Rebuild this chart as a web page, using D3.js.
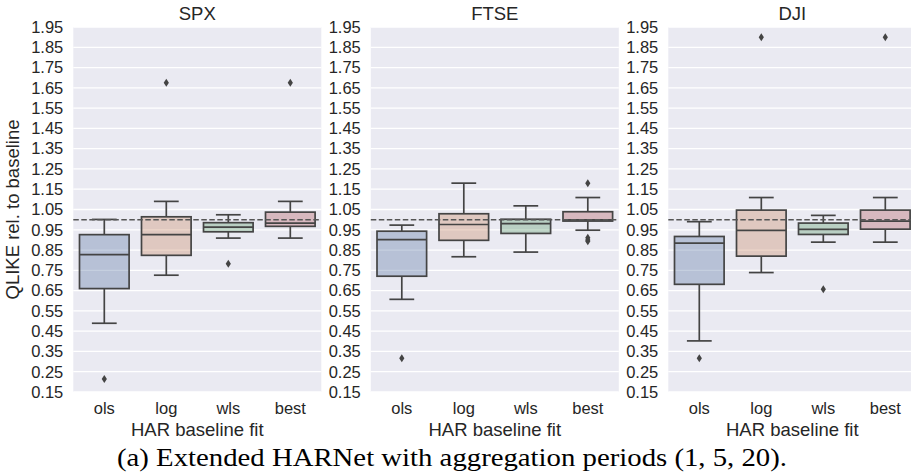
<!DOCTYPE html>
<html>
<head>
<meta charset="utf-8">
<script src="https://cdn.jsdelivr.net/npm/d3@7"></script>
<style>
  html, body { margin: 0; padding: 0; background: #ffffff; }
  svg { display: block; }
</style>
</head>
<body>
<svg id="chart" width="911" height="475"></svg>
<script>
// ---- data ----
const categories = ["ols", "log", "wls", "best"];
const panelTitles = ["SPX", "FTSE", "DJI"];
const yTickValues = [1.95, 1.85, 1.75, 1.65, 1.55, 1.45, 1.35, 1.25, 1.15, 1.05,
                     0.95, 0.85, 0.75, 0.65, 0.55, 0.45, 0.35, 0.25, 0.15];
// box stats per category: [lower whisker, Q1, median, Q3, upper whisker]
const spxStats = [
  [0.489, 0.660, 0.827, 0.926, 1.001],
  [0.726, 0.824, 0.926, 1.014, 1.090],
  [0.909, 0.940, 0.963, 0.985, 1.024],
  [0.909, 0.967, 0.983, 1.037, 1.090]
];
const spxOutliers = [[0.214], [1.675], [0.783], [1.675]];
const ftseStats = [
  [0.607, 0.721, 0.901, 0.943, 0.973],
  [0.817, 0.898, 0.976, 1.029, 1.180],
  [0.840, 0.932, 0.980, 1.002, 1.068],
  [0.948, 0.993, 0.999, 1.039, 1.109]
];
const ftseOutliers = [[0.317], [], [], [1.180, 0.911, 0.900, 0.893]];
const djiStats = [
  [0.402, 0.681, 0.884, 0.917, 0.990],
  [0.739, 0.820, 0.947, 1.047, 1.109],
  [0.889, 0.927, 0.952, 0.983, 1.021],
  [0.889, 0.953, 0.993, 1.047, 1.109]
];
const djiOutliers = [[0.317], [1.900], [0.657], [1.900]];
const baselineValue = 1.0;
const boxColors = ["#5975a4", "#cc8963", "#5f9e6e", "#b55d60"];

const panelStats = [spxStats, ftseStats, djiStats];
const panelOutliers = [spxOutliers, ftseOutliers, djiOutliers];

// ---- layout ----
const svg = d3.select("#chart");
const sans = "'Liberation Sans', Arial, sans-serif";
const plotTop = 27, plotBottom = 392;
const panelW = 248, panelStarts = [73.3, 370.8, 668.3];
const lineCol = "#444444";

const y = d3.scaleLinear().domain([0.15, 1.95]).range([plotBottom, plotTop]);

panelTitles.forEach((title, p) => {
  const x0 = panelStarts[p];
  const x = d3.scaleBand().domain(categories).range([x0, x0 + panelW]).paddingInner(0).paddingOuter(0);
  const g = svg.append("g");

  // background
  g.append("rect").attr("x", x0).attr("y", plotTop)
    .attr("width", panelW).attr("height", plotBottom - plotTop)
    .attr("fill", "#eaeaf2");

  // grid
  g.selectAll("line.grid").data(yTickValues).enter().append("line")
    .attr("x1", x0).attr("x2", x0 + panelW)
    .attr("y1", d => y(d)).attr("y2", d => y(d))
    .attr("stroke", "#ffffff").attr("stroke-width", 1.3);

  // y axis
  const yAxis = d3.axisLeft(y).tickValues(yTickValues).tickFormat(d3.format(".2f")).tickSize(0).tickPadding(10);
  const ya = g.append("g").attr("transform", `translate(${x0},0)`).call(yAxis);
  ya.select(".domain").remove();
  ya.selectAll("text").attr("font-family", sans).attr("font-size", "16.5px").attr("fill", "#262626");

  // x axis
  const xAxis = d3.axisBottom(x).tickSize(0).tickPadding(10);
  const xa = g.append("g").attr("transform", `translate(0,${plotBottom})`).call(xAxis);
  xa.select(".domain").remove();
  xa.selectAll("text").attr("font-family", sans).attr("font-size", "16.5px").attr("fill", "#262626");

  // x label
  g.append("text").attr("x", x0 + panelW / 2).attr("y", 436)
    .attr("text-anchor", "middle").attr("font-family", sans).attr("font-size", "18.5px")
    .attr("fill", "#262626").text("HAR baseline fit");

  // title
  g.append("text").attr("x", x0 + panelW / 2).attr("y", 20)
    .attr("text-anchor", "middle").attr("font-family", sans).attr("font-size", "18.5px")
    .attr("fill", "#262626").text(title);

  const bw = x.bandwidth() * 0.8;
  const stats = panelStats[p];
  const outs = panelOutliers[p];

  categories.forEach((c, i) => {
    const [lo, q1, med, q3, hi] = stats[i];
    const cx = x(c) + x.bandwidth() / 2;
    const bg = g.append("g");
    // whiskers
    bg.append("line").attr("x1", cx).attr("x2", cx).attr("y1", y(q3)).attr("y2", y(hi))
      .attr("stroke", lineCol).attr("stroke-width", 1.7);
    bg.append("line").attr("x1", cx).attr("x2", cx).attr("y1", y(q1)).attr("y2", y(lo))
      .attr("stroke", lineCol).attr("stroke-width", 1.7);
    // caps
    [lo, hi].forEach(v => {
      bg.append("line").attr("x1", cx - bw / 4).attr("x2", cx + bw / 4)
        .attr("y1", y(v)).attr("y2", y(v))
        .attr("stroke", lineCol).attr("stroke-width", 1.7);
    });
    // box
    bg.append("rect").attr("x", cx - bw / 2).attr("y", y(q3))
      .attr("width", bw).attr("height", y(q1) - y(q3))
      .attr("fill", boxColors[i]).attr("fill-opacity", 0.35)
      .attr("stroke", lineCol).attr("stroke-width", 1.7);
    // median
    bg.append("line").attr("x1", cx - bw / 2).attr("x2", cx + bw / 2)
      .attr("y1", y(med)).attr("y2", y(med))
      .attr("stroke", lineCol).attr("stroke-width", 1.7);
    // outliers (thin diamonds)
    outs[i].forEach(v => {
      const yy = y(v);
      bg.append("path")
        .attr("d", `M${cx},${yy - 4} L${cx + 2.6},${yy} L${cx},${yy + 4} L${cx - 2.6},${yy} Z`)
        .attr("fill", lineCol);
    });
  });

  // baseline dashed line
  g.append("line").attr("x1", x0).attr("x2", x0 + panelW)
    .attr("y1", y(baselineValue)).attr("y2", y(baselineValue))
    .attr("stroke", "#555555").attr("stroke-width", 1.5)
    .attr("stroke-dasharray", "5.5,2.5");
});

// y axis label
svg.append("text")
  .attr("transform", `translate(19,${(plotTop + plotBottom) / 2}) rotate(-90)`)
  .attr("text-anchor", "middle").attr("font-family", sans).attr("font-size", "18.5px")
  .attr("fill", "#262626").text("QLIKE rel. to baseline");

// caption
svg.append("text")
  .attr("x", 117).attr("y", 466)
  .attr("font-family", "'Liberation Serif', 'Times New Roman', serif").attr("font-size", "25px")
  .attr("fill", "#000000")
  .attr("textLength", 670).attr("lengthAdjust", "spacingAndGlyphs")
  .text("(a) Extended HARNet with aggregation periods (1, 5, 20).");
</script>
</body>
</html>
